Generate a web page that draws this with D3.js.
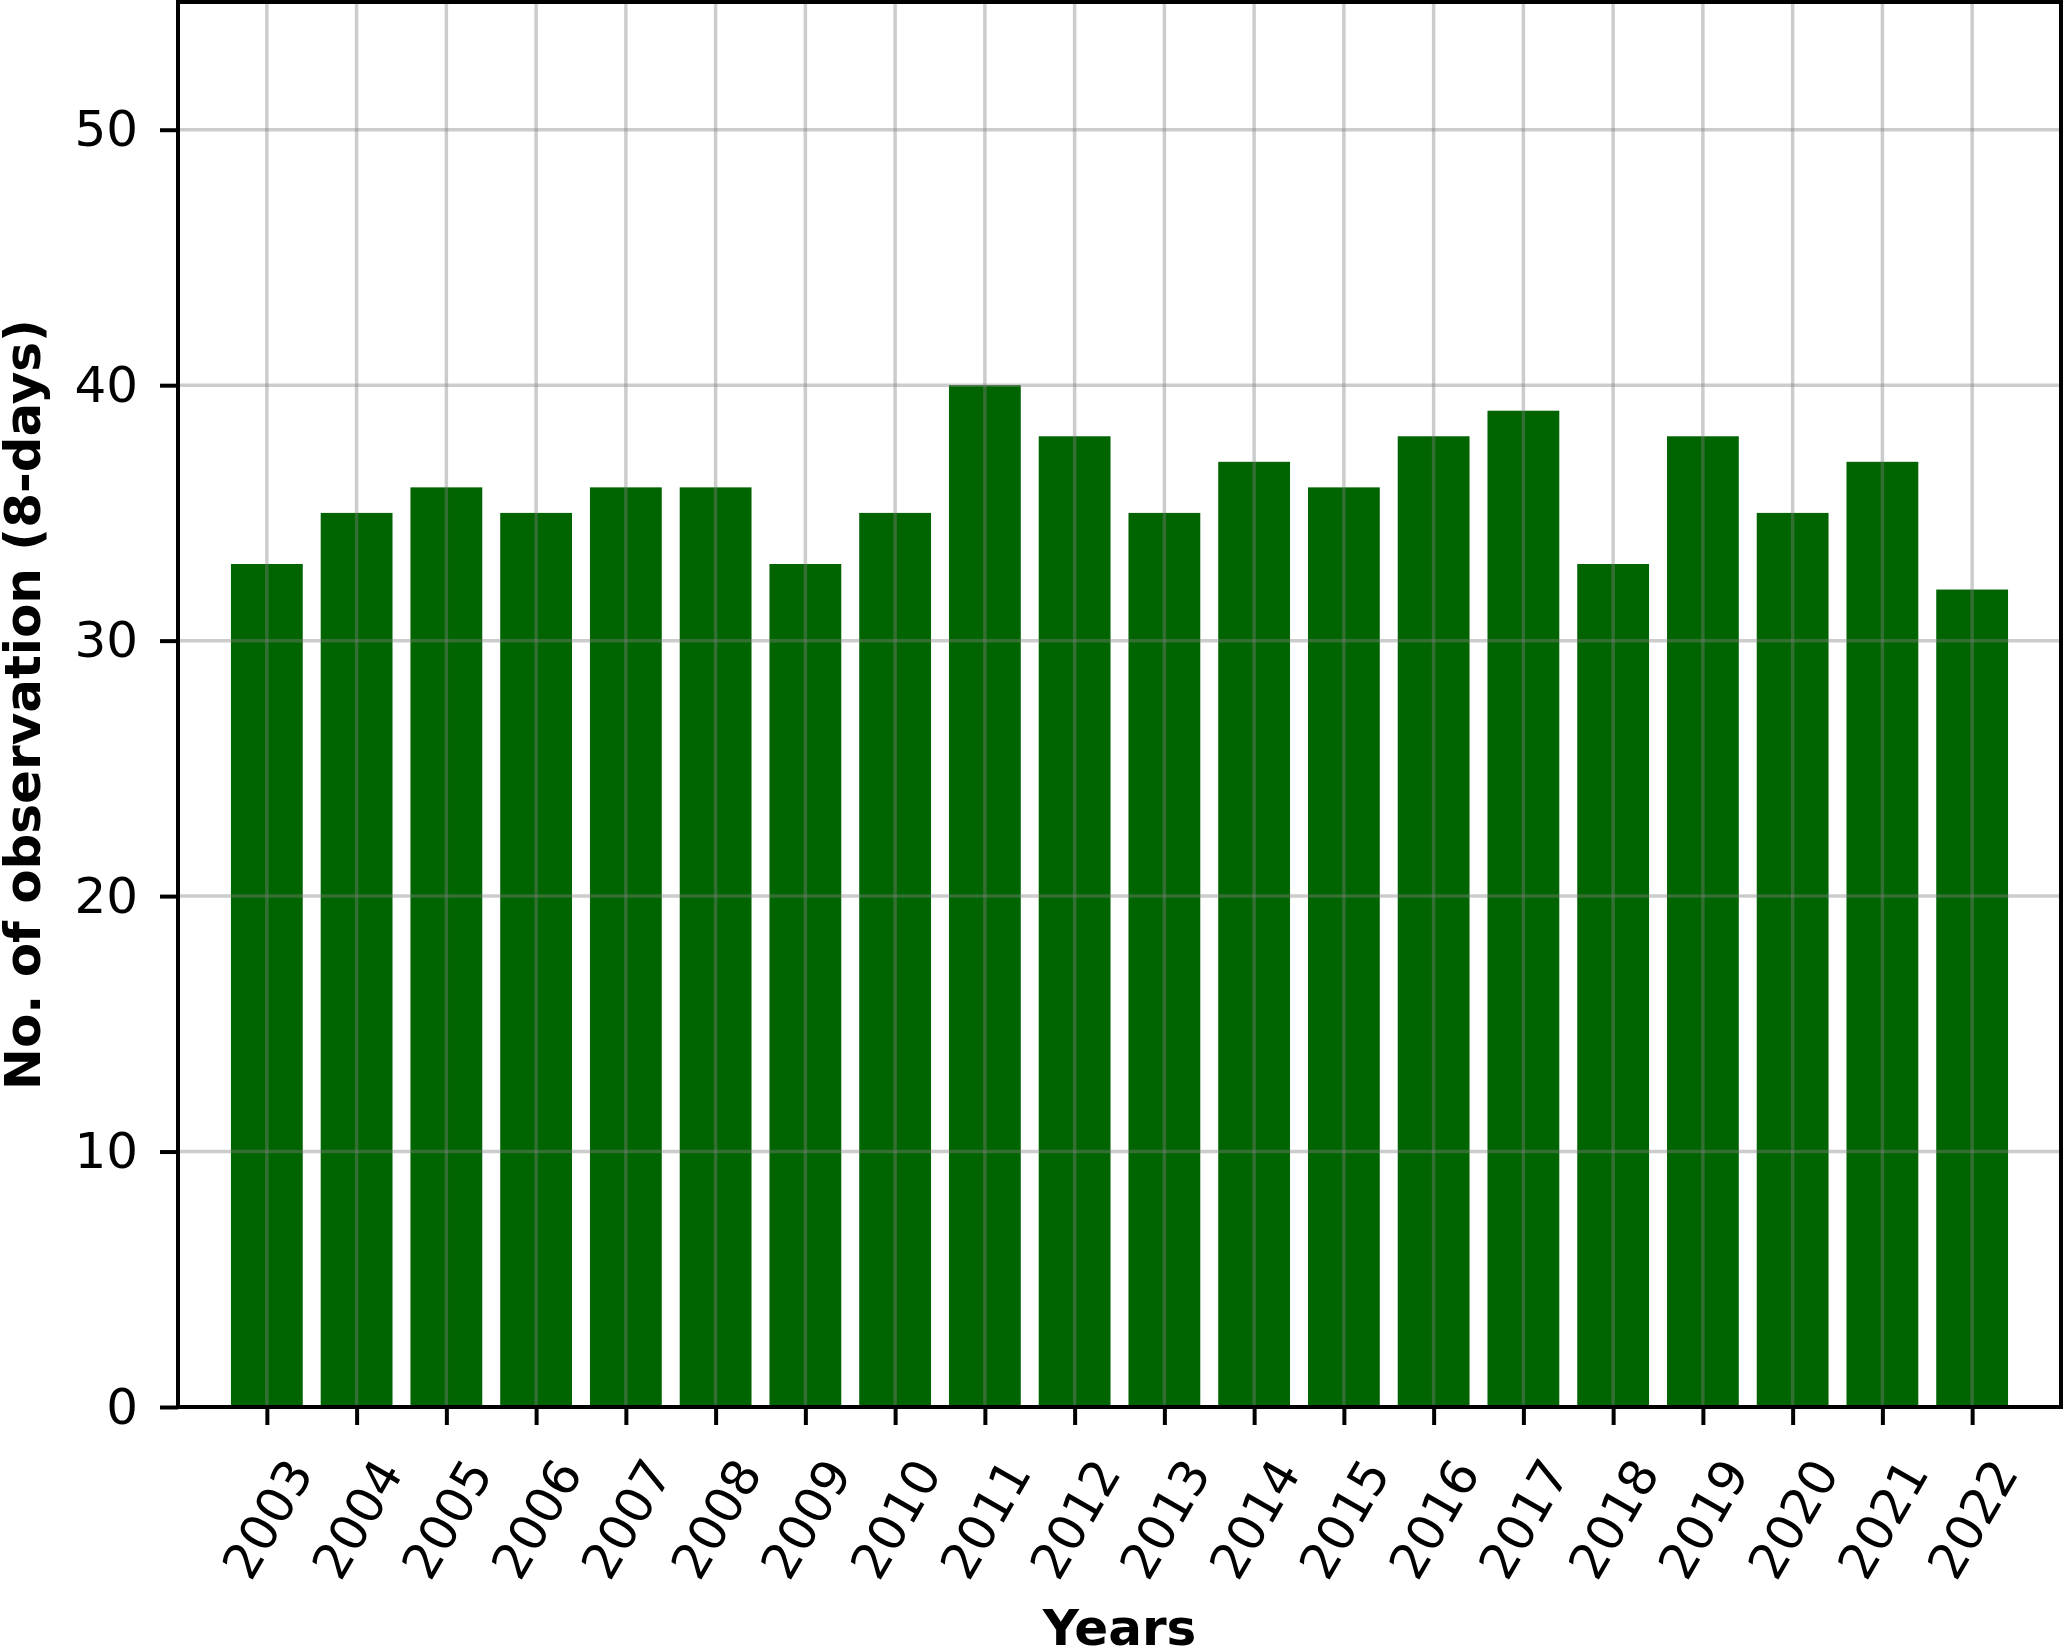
<!DOCTYPE html>
<html>
<head>
<meta charset="utf-8">
<script src="https://cdn.jsdelivr.net/npm/d3@7"></script>
<style>
  body { margin: 0; background: #fff; }
  text { font-family: "DejaVu Sans", sans-serif; fill: #000; }
</style>
</head>
<body>
<svg id="chart"></svg>
<script>
const years = [2003, 2004, 2005, 2006, 2007, 2008, 2009, 2010, 2011, 2012,
  2013, 2014, 2015, 2016, 2017, 2018, 2019, 2020, 2021, 2022]
const observations = [33, 35, 36, 35, 36, 36, 33, 35, 40, 38,
  35, 37, 36, 38, 39, 33, 38, 35, 37, 32]
const yTicks = [0, 10, 20, 30, 40, 50]

const W = 2066
const H = 1650
const LEFT = 178
const RIGHT = 2061
const TOP = 2
const BOTTOM = 1407
const FONT = 50

const svg = d3.select('#chart')
  .attr('width', W)
  .attr('height', H)

const x = d3.scaleLinear()
  .domain([-0.99, years.length - 1 + 0.99])
  .range([LEFT, RIGHT])

const y = d3.scaleLinear()
  .domain([0, 55])
  .range([BOTTOM, TOP])

const barW = x(0.8) - x(0)

// bars
svg.append('g')
  .selectAll('rect')
  .data(observations)
  .enter()
  .append('rect')
  .attr('x', (d, i) => x(i) - barW / 2)
  .attr('y', d => y(d))
  .attr('width', barW)
  .attr('height', d => y(0) - y(d))
  .attr('fill', '#006400')

// grid on top of bars
const grid = svg.append('g')
  .attr('stroke', '#808080')
  .attr('stroke-opacity', 0.4)
  .attr('stroke-width', 3.5)

grid.selectAll('.gx')
  .data(years)
  .enter()
  .append('line')
  .attr('x1', (d, i) => x(i))
  .attr('x2', (d, i) => x(i))
  .attr('y1', TOP)
  .attr('y2', BOTTOM)

grid.selectAll('.gy')
  .data(yTicks)
  .enter()
  .append('line')
  .attr('x1', LEFT)
  .attr('x2', RIGHT)
  .attr('y1', d => y(d))
  .attr('y2', d => y(d))

// y axis
const yAxis = svg.append('g')
  .attr('transform', `translate(${LEFT},0)`)
  .call(d3.axisLeft(y).tickValues(yTicks).tickSize(18).tickPadding(22))
yAxis.select('.domain').remove()
yAxis.selectAll('.tick line').attr('stroke', '#000').attr('stroke-width', 4)
yAxis.selectAll('.tick text')
  .style('font-size', FONT + 'px')
  .style('font-family', '"DejaVu Sans", sans-serif')

// x axis
const xAxis = svg.append('g')
  .attr('transform', `translate(0,${BOTTOM})`)
  .call(d3.axisBottom(x)
    .tickValues(d3.range(years.length))
    .tickSize(18)
    .tickFormat(i => years[i]))
xAxis.select('.domain').remove()
xAxis.selectAll('.tick line').attr('stroke', '#000').attr('stroke-width', 4)
xAxis.selectAll('.tick text')
  .style('font-size', FONT + 'px')
  .style('font-family', '"DejaVu Sans", sans-serif')
  .attr('text-anchor', 'middle')
  .attr('y', 0)
  .attr('dy', '0.35em')
  .attr('transform', 'translate(0,112) rotate(-60)')

// frame
svg.append('rect')
  .attr('x', LEFT)
  .attr('y', TOP)
  .attr('width', RIGHT - LEFT)
  .attr('height', BOTTOM - TOP)
  .attr('fill', 'none')
  .attr('stroke', '#000')
  .attr('stroke-width', 4)

// labels
svg.append('text')
  .attr('x', (LEFT + RIGHT) / 2)
  .attr('y', 1645)
  .attr('text-anchor', 'middle')
  .style('font-size', FONT + 'px')
  .style('font-weight', 'bold')
  .text('Years')

svg.append('text')
  .attr('transform', `translate(40,${(TOP + BOTTOM) / 2}) rotate(-90)`)
  .attr('text-anchor', 'middle')
  .style('font-size', FONT + 'px')
  .style('font-weight', 'bold')
  .text('No. of observation (8-days)')
</script>
</body>
</html>
